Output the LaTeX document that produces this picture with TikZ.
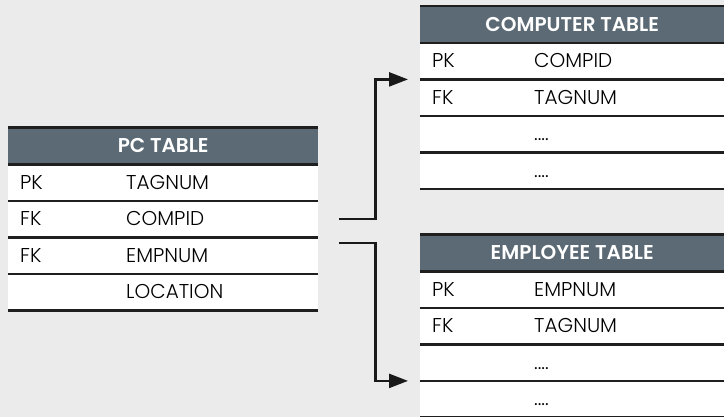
\documentclass[tikz,border=0pt]{standalone}
\usepackage{fontspec}
\setmainfont{Poppins}[UprightFont=* Light,BoldFont=* SemiBold]
\usetikzlibrary{positioning}
\usetikzlibrary{arrows.meta}

\definecolor{hdrgray}{RGB}{91,106,116}
\definecolor{bggray}{RGB}{235,235,235}

\begin{document}
\begin{tikzpicture}[x=1pt,y=-1pt,
  hdr/.style={fill=hdrgray,text=white,font=\bfseries\fontsize{20}{20}\selectfont,
    minimum height=36.5pt,inner sep=0pt,anchor=north west},
  row/.style={fill=white,minimum height=36.5pt,inner sep=0pt,anchor=north west},
  txt/.style={font=\fontsize{20}{20}\selectfont,inner sep=0pt,anchor=west,
    text height=14pt,text depth=0pt},
  sep/.style={line width=2.4pt,draw=black!88},
  link/.style={line width=2.4pt,draw=black!90,-{Triangle[length=19pt,width=14pt]}}]

\fill[bggray] (0,0) rectangle (724,417);
\useasboundingbox (0,0) rectangle (724,417);

% pc table
\node[hdr,minimum width=310pt] (pch) at (8,127.5) {PC TABLE};
\foreach \k/\f [count=\i] in {PK/TAGNUM,FK/COMPID,FK/EMPNUM,/LOCATION} {
  \node[row,minimum width=310pt] (pc\i) at (8,{127.5+36.5*\i}) {};
  \node[txt] (pck\i) at ([xshift=12pt]pc\i.west) {\k};
  \node[txt] (pcf\i) at ([xshift=118pt]pc\i.west) {\f};
}

% computer table
\node[hdr,minimum width=304pt] (cmh) at (420,6) {COMPUTER TABLE};
\foreach \k/\f [count=\i] in {PK/COMPID,FK/TAGNUM,/{....},/{....}} {
  \node[row,minimum width=304pt] (cm\i) at (420,{6+36.5*\i}) {};
  \node[txt] (cmk\i) at ([xshift=12pt]cm\i.west) {\k};
  \node[txt] (cmf\i) at ([xshift=114pt]cm\i.west) {\f};
}

% employee table
\node[hdr,minimum width=304pt] (emh) at (420,234.5) {EMPLOYEE TABLE};
\foreach \k/\f [count=\i] in {PK/EMPNUM,FK/TAGNUM,/{....},/{....}} {
  \node[row,minimum width=304pt] (em\i) at (420,{234.5+36.5*\i}) {};
  \node[txt] (emk\i) at ([xshift=12pt]em\i.west) {\k};
  \node[txt] (emf\i) at ([xshift=114pt]em\i.west) {\f};
}

% rules between rows
\foreach \t in {pc,cm,em} {
  \draw[sep] (\t h.north west) -- (\t h.north east);
  \foreach \n in {h,1,2,3,4}
    \draw[sep] (\t\n.south west) -- (\t\n.south east);
}

% links
\coordinate (s1) at ([xshift=21pt]pc2.east);
\coordinate (e1) at ([xshift=-12pt]cm1.south west);
\draw[link] (s1) -- ++(36,0) |- (e1);
\coordinate (s2) at ([xshift=21pt,yshift=-6pt]pc3.north east);
\coordinate (e2) at ([xshift=-12pt]em3.south west);
\draw[link] (s2) -- ++(36,0) |- (e2);
\end{tikzpicture}
\end{document}
